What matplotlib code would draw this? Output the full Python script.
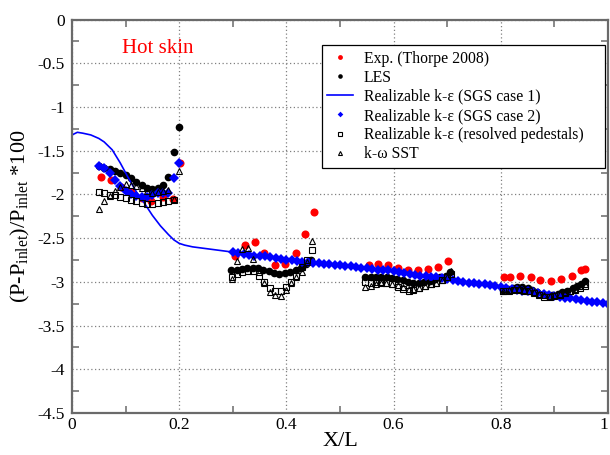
import matplotlib
matplotlib.use("Agg")
import matplotlib.pyplot as plt
from matplotlib.ticker import MultipleLocator, FormatStrFormatter

plt.rcParams['font.family'] = ['Liberation Serif', 'DejaVu Serif']
plt.rcParams['mathtext.fontset'] = 'custom'
plt.rcParams['mathtext.rm'] = 'Liberation Serif'
plt.rcParams['mathtext.it'] = 'Liberation Serif:italic'
plt.rcParams['axes.unicode_minus'] = False

# Exp. (Thorpe 2008)
exp_x = [0.055, 0.073, 0.092, 0.111, 0.130, 0.148, 0.169, 0.189, 0.201,
         0.304, 0.322, 0.341, 0.359, 0.378, 0.398, 0.417, 0.435, 0.451,
         0.554, 0.571, 0.589, 0.608, 0.626, 0.645, 0.665, 0.683, 0.701,
         0.806, 0.818, 0.836, 0.856, 0.874, 0.893, 0.912, 0.932, 0.950, 0.957]
exp_y = [-1.80, -1.84, -1.92, -1.97, -2.04, -2.07, -2.03, -2.05, -1.64,
         -2.71, -2.58, -2.55, -2.67, -2.81, -2.80, -2.67, -2.45, -2.20,
         -2.81, -2.80, -2.81, -2.84, -2.86, -2.87, -2.85, -2.83, -2.76,
         -2.95, -2.95, -2.93, -2.94, -2.98, -2.99, -2.97, -2.93, -2.87, -2.85]

# LES
les_x = [0.05, 0.06, 0.07, 0.08, 0.09, 0.10, 0.11, 0.12, 0.13, 0.14, 0.15, 0.16, 0.17, 0.18, 0.19, 0.20,
         0.297, 0.307, 0.317, 0.327, 0.337, 0.347, 0.357, 0.367, 0.377, 0.387, 0.397, 0.407, 0.417, 0.427, 0.437, 0.445,
         0.547, 0.557, 0.567, 0.577, 0.587, 0.597, 0.607, 0.617, 0.627, 0.637, 0.647, 0.657, 0.667, 0.677, 0.687, 0.697, 0.705,
         0.805, 0.813, 0.822, 0.831, 0.840, 0.850, 0.859, 0.868, 0.878, 0.887, 0.896, 0.906, 0.915, 0.924, 0.934, 0.943, 0.950, 0.957]
les_y = [-1.68, -1.70, -1.71, -1.73, -1.75, -1.78, -1.81, -1.86, -1.89, -1.93, -1.94, -1.93, -1.89, -1.80, -1.52, -1.23,
         -2.86, -2.86, -2.85, -2.84, -2.84, -2.84, -2.86, -2.88, -2.90, -2.91, -2.90, -2.89, -2.87, -2.84, -2.80, -2.75,
         -2.95, -2.95, -2.95, -2.95, -2.95, -2.96, -2.97, -2.98, -3.00, -3.01, -3.01, -3.00, -2.99, -2.97, -2.95, -2.93, -2.89,
         -3.09, -3.08, -3.07, -3.06, -3.06, -3.07, -3.09, -3.12, -3.14, -3.15, -3.15, -3.14, -3.12, -3.10, -3.07, -3.05, -3.03, -2.99]

# Realizable k-e (SGS case 1), continuous line
sgs1_x = [0.0, 0.01, 0.02, 0.035, 0.05, 0.06, 0.075, 0.09, 0.105, 0.12, 0.135, 0.15, 0.165, 0.18, 0.19,
          0.20, 0.21, 0.225, 0.25, 0.275, 0.30, 0.35, 0.40, 0.45, 0.50, 0.55, 0.60, 0.65, 0.70, 0.75,
          0.80, 0.85, 0.90, 0.95, 1.0]
sgs1_y = [-1.32, -1.29, -1.30, -1.32, -1.36, -1.40, -1.49, -1.64, -1.81, -1.97, -2.10, -2.24, -2.36, -2.46, -2.52,
          -2.56, -2.58, -2.60, -2.62, -2.64, -2.66, -2.70, -2.75, -2.78, -2.81, -2.85, -2.88, -2.93, -2.97, -3.02,
          -3.06, -3.11, -3.16, -3.21, -3.25]

# Realizable k-e (SGS case 2), diamonds
sgs2_x = [0.05, 0.06, 0.07, 0.08, 0.09, 0.10, 0.11, 0.12, 0.13, 0.14, 0.15, 0.16, 0.17, 0.18, 0.19, 0.20,
          0.30, 0.31, 0.32, 0.33, 0.34, 0.35, 0.36, 0.37, 0.38, 0.39, 0.40, 0.41, 0.42, 0.43, 0.44,
          0.45, 0.46, 0.47, 0.48, 0.49, 0.50, 0.51, 0.52, 0.53, 0.54, 0.55, 0.56, 0.57, 0.58, 0.59,
          0.60, 0.61, 0.62, 0.63, 0.64, 0.65, 0.66, 0.67, 0.68, 0.69, 0.70, 0.71, 0.72, 0.73, 0.74,
          0.75, 0.76, 0.77, 0.78, 0.79, 0.80, 0.81, 0.82, 0.83, 0.84, 0.85, 0.86, 0.87, 0.88, 0.89,
          0.90, 0.91, 0.92, 0.93, 0.94, 0.95, 0.96, 0.97, 0.98, 0.99, 1.00]
sgs2_y = [-1.68, -1.70, -1.75, -1.83, -1.90, -1.96, -1.99, -2.02, -2.03, -2.03, -2.01, -1.98, -1.98, -1.98, -1.81, -1.64,
          -2.66, -2.67, -2.68, -2.69, -2.70, -2.70, -2.71, -2.72, -2.73, -2.74, -2.75, -2.75, -2.76, -2.77, -2.77,
          -2.78, -2.79, -2.80, -2.80, -2.81, -2.81, -2.82, -2.82, -2.83, -2.84, -2.84, -2.85, -2.86, -2.86, -2.87,
          -2.88, -2.89, -2.90, -2.91, -2.92, -2.93, -2.93, -2.94, -2.95, -2.96, -2.97, -2.98, -2.99, -3.00, -3.01,
          -3.01, -3.02, -3.03, -3.04, -3.05, -3.06, -3.07, -3.08, -3.09, -3.10, -3.11, -3.12, -3.13, -3.14, -3.15,
          -3.16, -3.17, -3.18, -3.19, -3.20, -3.21, -3.22, -3.23, -3.23, -3.24, -3.25]

# Realizable k-e (resolved pedestals), open squares
ped_x = [0.05, 0.06, 0.07, 0.08, 0.09, 0.10, 0.11, 0.12, 0.13, 0.14, 0.15, 0.16, 0.17, 0.18, 0.19,
         0.299, 0.308, 0.318, 0.328, 0.338, 0.349, 0.359, 0.369, 0.378, 0.389, 0.399, 0.408, 0.418, 0.429, 0.438, 0.448,
         0.547, 0.558, 0.567, 0.577, 0.586, 0.597, 0.608, 0.617, 0.628, 0.637, 0.648, 0.659, 0.669, 0.679, 0.690, 0.700, 0.708,
         0.805, 0.815, 0.824, 0.834, 0.843, 0.853, 0.862, 0.872, 0.881, 0.891, 0.900, 0.910, 0.919, 0.929, 0.938, 0.948, 0.957]
ped_y = [-1.97, -1.98, -2.01, -2.01, -2.03, -2.04, -2.06, -2.08, -2.10, -2.11, -2.11, -2.10, -2.09, -2.08, -2.06,
         -2.95, -2.91, -2.89, -2.88, -2.88, -2.93, -3.00, -3.07, -3.11, -3.10, -3.06, -3.00, -2.93, -2.83, -2.75, -2.64,
         -3.00, -3.01, -3.00, -3.00, -3.01, -3.03, -3.06, -3.08, -3.10, -3.09, -3.07, -3.05, -3.03, -3.01, -2.98, -2.95, -2.91,
         -3.11, -3.10, -3.09, -3.09, -3.10, -3.11, -3.13, -3.15, -3.17, -3.17, -3.16, -3.15, -3.13, -3.11, -3.09, -3.07, -3.05]

# k-omega SST, open triangles
sst_x = [0.05, 0.06, 0.07, 0.08, 0.09, 0.10, 0.11, 0.12, 0.13, 0.14, 0.15, 0.16, 0.17, 0.18, 0.19, 0.20,
         0.299, 0.308, 0.318, 0.328, 0.338, 0.349, 0.359, 0.369, 0.378, 0.389, 0.399, 0.408, 0.418, 0.429, 0.438, 0.448,
         0.547, 0.558, 0.567, 0.577, 0.586, 0.597, 0.608, 0.617, 0.628, 0.637, 0.648, 0.659, 0.669, 0.679, 0.690, 0.700, 0.708,
         0.805, 0.815, 0.824, 0.834, 0.843, 0.853, 0.862, 0.872, 0.881, 0.891, 0.900, 0.910, 0.919, 0.929, 0.938, 0.948, 0.957]
sst_y = [-2.17, -2.08, -2.02, -1.96, -1.91, -1.88, -1.89, -1.90, -1.93, -1.96, -1.98, -1.97, -1.96, -1.95, -2.05, -1.73,
         -2.97, -2.76, -2.62, -2.61, -2.74, -2.89, -3.01, -3.12, -3.15, -3.16, -3.09, -3.01, -2.95, -2.89, -2.77, -2.53,
         -3.06, -3.05, -3.02, -3.01, -3.01, -3.02, -3.04, -3.06, -3.08, -3.08, -3.07, -3.05, -3.03, -3.01, -2.98, -2.94, -2.88,
         -3.10, -3.09, -3.08, -3.08, -3.09, -3.10, -3.12, -3.14, -3.15, -3.16, -3.15, -3.14, -3.12, -3.10, -3.08, -3.05, -3.02]

labels = ['Exp. (Thorpe 2008)', 'LES', 'Realizable k-ε (SGS case 1)', 'Realizable k-ε (SGS case 2)',
          'Realizable k-ε (resolved pedestals)', 'k-ω SST']

x_ticks = [0, 0.2, 0.4, 0.6, 0.8, 1]
x_ticklabels = ['0', '0.2', '0.4', '0.6', '0.8', '1']

spine_col = '#6a6a6a'

fig = plt.figure(figsize=(6.1, 4.55), dpi=100)
ax = fig.add_axes([72 / 610, 1 - 413 / 455, 536 / 610, 393.5 / 455])

ax.plot(exp_x, exp_y, 'o', color='red', ms=5.8, mew=0, label=labels[0])
ax.plot(les_x, les_y, 'o', color='black', ms=5.5, mew=0, label=labels[1])
ax.plot(sgs1_x, sgs1_y, '-', color='blue', lw=1.2, label=labels[2])
ax.plot(sgs2_x, sgs2_y, 'D', color='blue', ms=4.8, mew=0, label=labels[3])
ax.plot(ped_x, ped_y, 's', mfc='none', mec='black', ms=4.4, mew=0.8, label=labels[4])
ax.plot(sst_x, sst_y, '^', mfc='none', mec='black', ms=4.8, mew=0.8, label=labels[5])

ax.set_xlim(0, 1)
ax.set_ylim(-4.5, 0)
ax.set_xticks(x_ticks, x_ticklabels)
ax.xaxis.set_minor_locator(MultipleLocator(0.1))
ax.yaxis.set_major_locator(MultipleLocator(0.5))
ax.yaxis.set_minor_locator(MultipleLocator(0.25))
ax.yaxis.set_major_formatter(FormatStrFormatter('%g'))

ax.grid(True, which='major', color='#808080', linestyle=(0, (1, 2)), lw=0.9)
ax.tick_params(which='major', length=0, labelsize=12.5)
ax.tick_params(axis='x', which='major', pad=3)
ax.tick_params(axis='y', which='major', pad=5)
ax.tick_params(which='minor', length=5, width=1.1, direction='in', color=spine_col,
               top=True, right=True)
for sp in ax.spines.values():
    sp.set_color(spine_col)
    sp.set_linewidth(1.6)

# keep the "1" at the right edge inside the canvas
ax.get_xticklabels()[-1].set_horizontalalignment('right')

ax.set_xlabel('X/L', fontsize=16, labelpad=-1)
ax.set_ylabel(r'(P-P$_{\mathrm{inlet}}$)/P$_{\mathrm{inlet}}$ *100', fontsize=16, labelpad=4)

ax.text(0.16, -0.33, 'Hot skin', color='red', fontsize=15, ha='center', va='center')

leg_labels = list(labels)
leg_labels[4] = leg_labels[4] + '    '
handles, _ = ax.get_legend_handles_labels()
leg = ax.legend(handles, leg_labels, loc='upper left', bbox_to_anchor=((322 - 72) / 536, 0.935),
                borderaxespad=0, fontsize=11.3, markerscale=0.6,
                handlelength=1.6, handletextpad=0.7, labelspacing=0.2, borderpad=0.35,
                fancybox=False, framealpha=1, edgecolor='black')
leg.get_frame().set_linewidth(0.9)

fig.savefig('out.png', dpi=100)
